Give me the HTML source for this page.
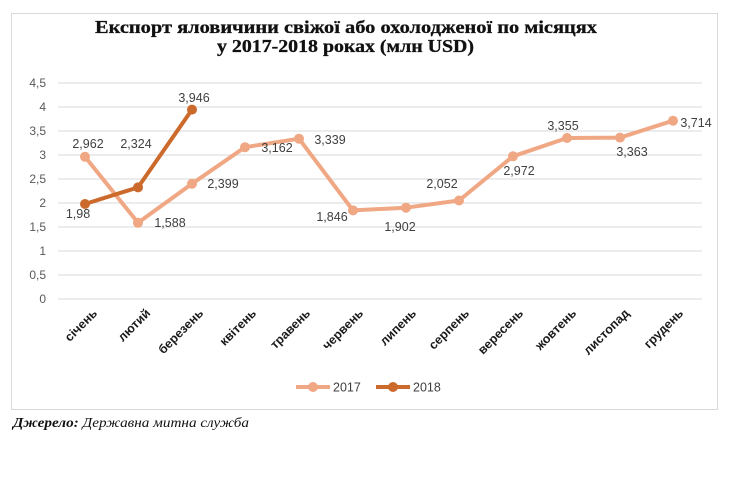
<!DOCTYPE html>
<html><head><meta charset="utf-8"><style>
body{margin:0;background:#fff;width:735px;height:480px;overflow:hidden}
.s{font-family:"Liberation Sans",sans-serif}
.r{font-family:"Liberation Serif",serif}
</style></head><body>
<svg width="735" height="480" viewBox="0 0 735 480" xmlns="http://www.w3.org/2000/svg">
<rect x="11.5" y="13.5" width="706" height="396" fill="#fff" stroke="#d9d9d9"/>
<g class="r" font-weight="bold" font-size="17.5" fill="#111" stroke="#111" stroke-width="0.3">
<text x="95" y="33" textLength="502" lengthAdjust="spacingAndGlyphs">Експорт яловичини свіжої або охолодженої по місяцях</text>
<text x="217" y="52" textLength="257" lengthAdjust="spacingAndGlyphs">у 2017-2018 роках (млн USD)</text>
</g>
<g stroke="#d9d9d9" stroke-width="1">
<line x1="58" x2="702" y1="83" y2="83"/><line x1="58" x2="702" y1="107" y2="107"/>
<line x1="58" x2="702" y1="131" y2="131"/><line x1="58" x2="702" y1="155" y2="155"/>
<line x1="58" x2="702" y1="179" y2="179"/><line x1="58" x2="702" y1="203" y2="203"/>
<line x1="58" x2="702" y1="227" y2="227"/><line x1="58" x2="702" y1="251" y2="251"/>
<line x1="58" x2="702" y1="275" y2="275"/><line x1="58" x2="702" y1="299" y2="299"/>
</g>
<g class="s" font-size="12" fill="#595959" text-anchor="end">
<text x="46" y="87">4,5</text><text x="46" y="111">4</text><text x="46" y="135">3,5</text>
<text x="46" y="159">3</text><text x="46" y="183">2,5</text><text x="46" y="207">2</text>
<text x="46" y="231">1,5</text><text x="46" y="255">1</text><text x="46" y="279">0,5</text>
<text x="46" y="303">0</text>
</g>
<g class="s" font-size="12.5" font-weight="bold" fill="#1a1a1a" text-anchor="end">
<text transform="translate(98,314) rotate(-45)">січень</text>
<text transform="translate(151,314) rotate(-45)">лютий</text>
<text transform="translate(204,314) rotate(-45)">березень</text>
<text transform="translate(257,314) rotate(-45)">квітень</text>
<text transform="translate(311,314) rotate(-45)">травень</text>
<text transform="translate(364,314) rotate(-45)">червень</text>
<text transform="translate(417,314) rotate(-45)">липень</text>
<text transform="translate(470,314) rotate(-45)">серпень</text>
<text transform="translate(524,314) rotate(-45)">вересень</text>
<text transform="translate(577,314) rotate(-45)">жовтень</text>
<text transform="translate(630,314) rotate(-45)">листопад</text>
<text transform="translate(684,314) rotate(-45)">грудень</text>
</g>
<g fill="none" stroke-width="4" stroke-linejoin="round">
<polyline stroke="#f0a784" points="85,156.8 138,222.8 192,183.8 245,147.2 299,138.7 353,210.4 406,207.7 459,200.5 513,156.3 567,138 620,137.6 673,120.7"/>
<polyline stroke="#cc6a2c" points="85,204 138,187.4 192,109.6"/>
</g>
<g fill="#f0a784">
<circle cx="85" cy="156.8" r="5"/><circle cx="138" cy="222.8" r="5"/><circle cx="192" cy="183.8" r="5"/>
<circle cx="245" cy="147.2" r="5"/><circle cx="299" cy="138.7" r="5"/><circle cx="353" cy="210.4" r="5"/>
<circle cx="406" cy="207.7" r="5"/><circle cx="459" cy="200.5" r="5"/><circle cx="513" cy="156.3" r="5"/>
<circle cx="567" cy="138" r="5"/><circle cx="620" cy="137.6" r="5"/><circle cx="673" cy="120.7" r="5"/>
</g>
<g fill="#cc6a2c"><circle cx="85" cy="204" r="5"/><circle cx="138" cy="187.4" r="5"/><circle cx="192" cy="109.6" r="5"/></g>
<g class="s" font-size="12.5" fill="#404040" text-anchor="middle">
<text x="88" y="148">2,962</text><text x="136" y="148">2,324</text><text x="194" y="102">3,946</text>
<text x="78" y="218">1,98</text><text x="170" y="227">1,588</text><text x="223" y="188">2,399</text>
<text x="277" y="152">3,162</text><text x="330" y="144">3,339</text><text x="332" y="221">1,846</text>
<text x="400" y="231">1,902</text><text x="442" y="188">2,052</text><text x="519" y="175">2,972</text>
<text x="563" y="130">3,355</text><text x="632" y="156">3,363</text><text x="696" y="127">3,714</text>
</g>
<g>
<line x1="296" x2="330" y1="387" y2="387" stroke="#f0a784" stroke-width="4"/><circle cx="313" cy="387" r="5" fill="#f0a784"/>
<line x1="376" x2="410" y1="387" y2="387" stroke="#cc6a2c" stroke-width="4"/><circle cx="393" cy="387" r="5" fill="#cc6a2c"/>
<text class="s" x="333" y="391.5" font-size="12.5" fill="#404040">2017</text>
<text class="s" x="413" y="391.5" font-size="12.5" fill="#404040">2018</text>
</g>
<text class="r" x="13" y="427" font-size="14" font-style="italic" fill="#111" textLength="236" lengthAdjust="spacingAndGlyphs"><tspan font-weight="bold">Джерело:</tspan> Державна митна служба</text>
</svg>
</body></html>
